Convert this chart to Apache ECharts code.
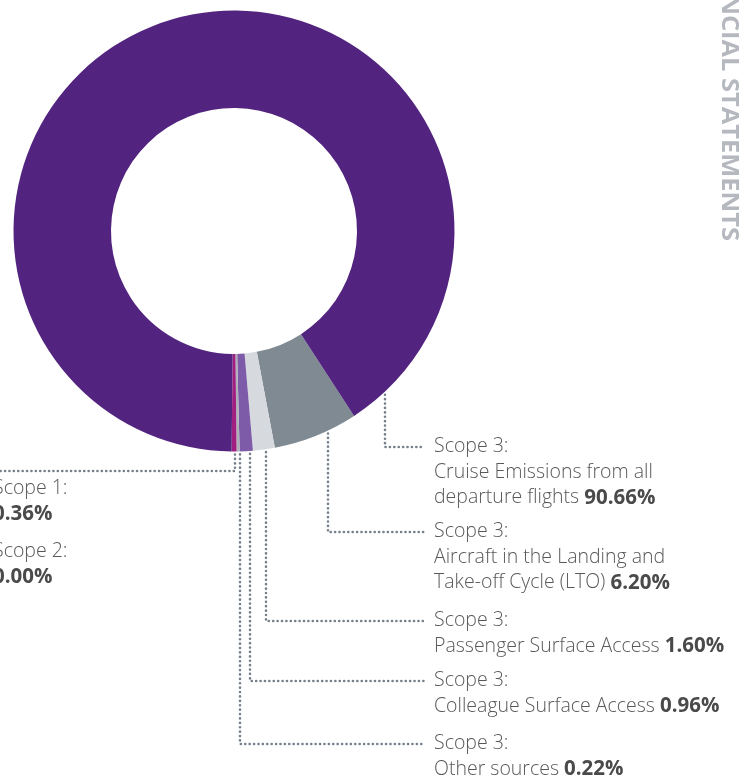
<!DOCTYPE html>
<html><head><meta charset="utf-8">
<script src="https://cdn.jsdelivr.net/npm/echarts@6/dist/echarts.min.js"></script>
<style>html,body{margin:0;padding:0;background:#fff}#c{width:744px;height:780px}</style>
</head><body><div id="c"></div>
<script>
// ---- data ----
const categories = [
  'Scope 3:\nAircraft in the Landing and\nTake-off Cycle (LTO)',
  'Scope 3:\nPassenger Surface Access',
  'Scope 3:\nColleague Surface Access',
  'Scope 3:\nOther sources',
  'Scope 1:',
  'Scope 2:',
  'Scope 3:\nCruise Emissions from all\ndeparture flights'
];
const values = [6.20, 1.60, 0.96, 0.22, 0.36, 0.00, 90.66];
const sideTitle = 'FINANCIAL STATEMENTS';

// ---- styles / layout ----
const colors = ['#7f8a93', '#d6d9dd', '#7d5ba8', '#aeb2b8', '#a01f80', '#a01f80', '#52247f'];
const CX = 234, CY = 231, R0 = 123, R1 = 220.5;
const leaderX = [328, 266, 250, 240, 235, null, 385];
const leaderY = [532, 621, 681, 744, 471, null, 447];
const labelX  = [434, 434, 434, 434, -7, -7, 434];
const labelTop = [519, 608, 668, 731, 476, 539, 434];

const chart = echarts.init(document.getElementById('c'));
const data = values.map((v, i) => {
  const d = { name: categories[i], value: v, itemStyle: { color: colors[i] } };
  if (leaderX[i] == null) d.labelLine = { show: false };
  return d;
});

chart.setOption({
  animation: false,
  series: [{
    type: 'pie',
    center: [CX, CY],
    radius: [R0, R1],
    startAngle: -57,
    clockwise: true,
    avoidLabelOverlap: false,
    emphasis: { disabled: true },
    data: data,
    label: {
      show: true,
      position: 'outside',
      formatter: function (p) {
        const lines = p.name.split('\n');
        const pct = p.value.toFixed(2) + '%';
        let out = lines.map(l => '{n|' + l + '}');
        if (lines.length === 1) {
          out.push('{b|' + pct + '}');
        } else {
          out[out.length - 1] = '{n|' + lines[lines.length - 1] + ' }{b|' + pct + '}';
        }
        return out.join('\n');
      },
      rich: {
        n: { fontFamily: 'Open Sans', fontWeight: 300, fontSize: 19.5, color: '#585858', lineHeight: 25.5 },
        b: { fontFamily: 'Open Sans', fontWeight: 'bold', fontSize: 20.5, color: '#4a4a4a', lineHeight: 25.5 }
      }
    },
    labelLine: {
      show: true,
      lineStyle: { color: '#76818c', width: 2.6, type: [0.1, 4.3], cap: 'round' }
    },
    labelLayout: function (p) {
      const i = p.dataIndex;
      const res = { x: labelX[i], y: labelTop[i], align: 'left', verticalAlign: 'top' };
      const lx = leaderX[i];
      if (lx != null) {
        const y0 = CY + Math.sqrt(R1 * R1 - (lx - CX) * (lx - CX)) + 3;
        const endX = (i === 4) ? -10 : 424;
        res.labelLinePoints = [[lx, y0], [lx, leaderY[i]], [endX, leaderY[i]]];
      }
      return res;
    }
  }],
  graphic: [{
    type: 'text',
    x: 728.5, y: 241,
    rotation: -Math.PI / 2,
    scaleX: 1.06,
    style: {
      text: sideTitle,
      fontFamily: 'Open Sans', fontWeight: 'bold', fontSize: 24,
      fill: '#b5b9bf', align: 'right', verticalAlign: 'middle'
    }
  }]
});
</script></body></html>
